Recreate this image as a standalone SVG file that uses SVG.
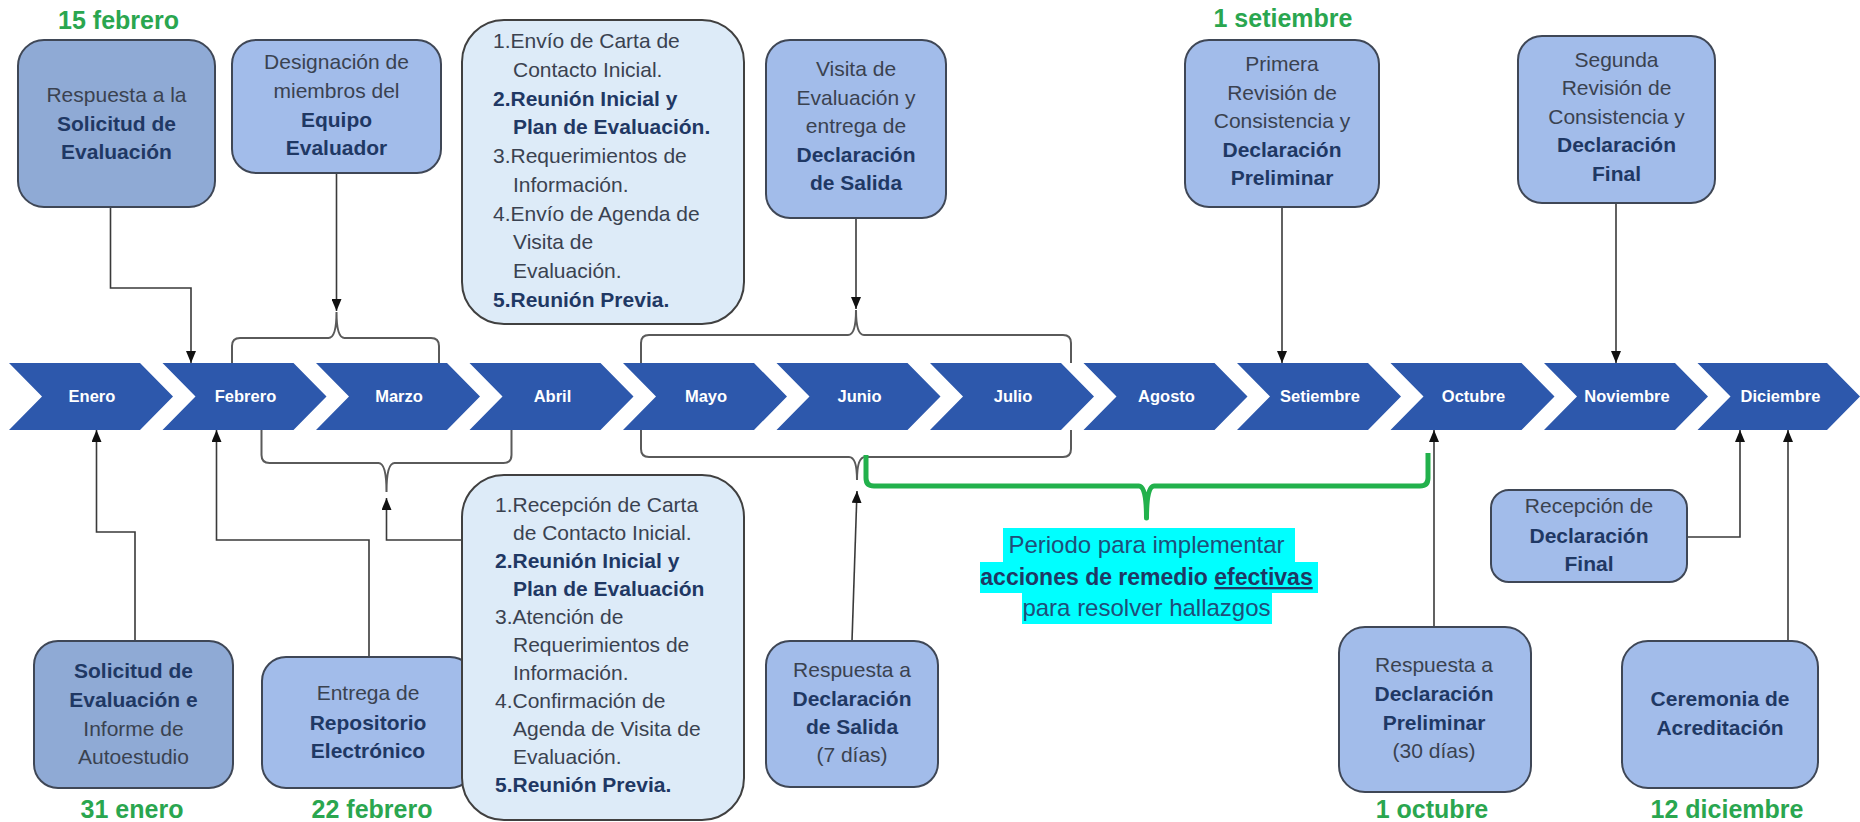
<svg xmlns="http://www.w3.org/2000/svg" width="1860" height="822" viewBox="0 0 1860 822">
<style>
.bg{fill:#ffffff}
.box{stroke:#3f4756;stroke-width:2}
.dark{fill:#8faad5}
.mid{fill:#a2bcea}
.list{fill:#ddebf8;stroke:#404040;stroke-width:2}
text{font-family:"Liberation Sans",Arial,sans-serif}
.t{font-size:21px;text-anchor:middle;fill:#3a4250}
.tl{font-size:21px;fill:#3a4250}
.b{font-weight:bold;fill:#1f3864}
.date{font-size:25px;font-weight:bold;fill:#2aa64f;text-anchor:middle}
.mon{font-size:16.5px;font-weight:bold;fill:#ffffff;text-anchor:middle}
.chev{fill:#2d58ac}
.con{fill:none;stroke:#3a3a3a;stroke-width:1.6}
.brace{fill:none;stroke:#5a5a5a;stroke-width:2}
.gbrace{fill:none;stroke:#22b14c;stroke-width:5;stroke-linejoin:round}
.hl{fill:#00ffff}
.lab{font-size:24px;text-anchor:middle;fill:#1f4e79}
</style>
<defs>
<marker id="arr" viewBox="0 0 12 10" refX="12" refY="5" markerWidth="12" markerHeight="10" markerUnits="userSpaceOnUse" orient="auto">
<path d="M0,0 L12,5 L0,10 z" fill="#111"/>
</marker>
</defs>
<rect class="bg" x="0" y="0" width="1860" height="822"/>

<g id="timeline">
<g id="m-enero"><polygon class="chev" points="9,363 140,363 173,396.5 140,430 9,430 42,396.5"/><text class="mon" x="92" y="402">Enero</text></g>
<g id="m-febrero"><polygon class="chev" points="162.5,363 293.5,363 326.5,396.5 293.5,430 162.5,430 195.5,396.5"/><text class="mon" x="245.5" y="402">Febrero</text></g>
<g id="m-marzo"><polygon class="chev" points="316,363 447,363 480,396.5 447,430 316,430 349,396.5"/><text class="mon" x="399" y="402">Marzo</text></g>
<g id="m-abril"><polygon class="chev" points="469.5,363 600.5,363 633.5,396.5 600.5,430 469.5,430 502.5,396.5"/><text class="mon" x="552.5" y="402">Abril</text></g>
<g id="m-mayo"><polygon class="chev" points="623,363 754,363 787,396.5 754,430 623,430 656,396.5"/><text class="mon" x="706" y="402">Mayo</text></g>
<g id="m-junio"><polygon class="chev" points="776.5,363 907.5,363 940.5,396.5 907.5,430 776.5,430 809.5,396.5"/><text class="mon" x="859.5" y="402">Junio</text></g>
<g id="m-julio"><polygon class="chev" points="930,363 1061,363 1094,396.5 1061,430 930,430 963,396.5"/><text class="mon" x="1013" y="402">Julio</text></g>
<g id="m-agosto"><polygon class="chev" points="1083.5,363 1214.5,363 1247.5,396.5 1214.5,430 1083.5,430 1116.5,396.5"/><text class="mon" x="1166.5" y="402">Agosto</text></g>
<g id="m-setiembre"><polygon class="chev" points="1237,363 1368,363 1401,396.5 1368,430 1237,430 1270,396.5"/><text class="mon" x="1320" y="402">Setiembre</text></g>
<g id="m-octubre"><polygon class="chev" points="1390.5,363 1521.5,363 1554.5,396.5 1521.5,430 1390.5,430 1423.5,396.5"/><text class="mon" x="1473.5" y="402">Octubre</text></g>
<g id="m-noviembre"><polygon class="chev" points="1544,363 1675,363 1708,396.5 1675,430 1544,430 1577,396.5"/><text class="mon" x="1627" y="402">Noviembre</text></g>
<g id="m-diciembre"><polygon class="chev" points="1697.5,363 1827,363 1860,396.5 1827,430 1697.5,430 1730.5,396.5"/><text class="mon" x="1780.5" y="402">Diciembre</text></g>
</g>

<g id="connectors">
<path class="con" d="M110.5,207 V288 H191 V363" marker-end="url(#arr)"/>
<path class="con" d="M336.5,173 V311" marker-end="url(#arr)"/>
<path class="brace" d="M232,363 V346 Q232,338 240,338 H328.5 Q336.5,338 336.5,312 Q336.5,338 344.5,338 H431 Q439,338 439,346 V363"/>
<path class="con" d="M856,218 V309" marker-end="url(#arr)"/>
<path class="brace" d="M641,363 V343 Q641,335 649,335 H848 Q856,335 856,310 Q856,335 864,335 H1063 Q1071,335 1071,343 V363"/>
<path class="con" d="M1282,207 V363" marker-end="url(#arr)"/>
<path class="con" d="M1616,203 V363" marker-end="url(#arr)"/>
<path class="con" d="M135,641 V532 H96.5 V430" marker-end="url(#arr)"/>
<path class="con" d="M369,657 V540 H216.5 V430" marker-end="url(#arr)"/>
<path class="con" d="M463,540 H386.5 V498" marker-end="url(#arr)"/>
<path class="brace" d="M261.5,430 V455 Q261.5,463 269.5,463 H378.5 Q386.5,463 386.5,492 Q386.5,463 394.5,463 H503.5 Q511.5,463 511.5,455 V430"/>
<path class="brace" d="M641,430 V449 Q641,457 649,457 H849 Q857,457 857,480 Q857,457 865,457 H1063 Q1071,457 1071,449 V430"/>
<path class="con" d="M852,641 L857,491" marker-end="url(#arr)"/>
<path class="con" d="M1434,627 V430" marker-end="url(#arr)"/>
<path class="con" d="M1686,537 H1740 V430" marker-end="url(#arr)"/>
<path class="con" d="M1788,642 V430" marker-end="url(#arr)"/>
</g>

<g id="periodo">
<path class="gbrace" d="M866,455 V478 Q866,486 874,486 H1139 Q1146.5,486 1146.5,518 Q1146.5,486 1154,486 H1420 Q1428,486 1428,478 V453"/>
<rect class="hl" x="1003" y="528" width="292" height="34"/>
<rect class="hl" x="980" y="562" width="338" height="31"/>
<rect class="hl" x="1022" y="593" width="250" height="31"/>
<text class="lab" x="1146.5" y="553">Periodo para implementar</text>
<text class="lab" x="1146.5" y="585" style="font-weight:bold;font-size:23px;fill:#1f3864">acciones de remedio <tspan text-decoration="underline">efectivas</tspan></text>
<text class="lab" x="1146.5" y="616">para resolver hallazgos</text>
</g>

<g id="dates">
<text class="date" x="118.5" y="29">15 febrero</text>
<text class="date" x="1283" y="27">1 setiembre</text>
<text class="date" x="132" y="818">31 enero</text>
<text class="date" x="372" y="818">22 febrero</text>
<text class="date" x="1432" y="818">1 octubre</text>
<text class="date" x="1727" y="818">12 diciembre</text>
</g>

<g id="n-respuesta-solicitud">
<rect class="box dark" x="18" y="40" width="197" height="167" rx="26"/>
<text class="t" x="116.5" y="102">Respuesta a la</text>
<text class="t b" x="116.5" y="131">Solicitud de</text>
<text class="t b" x="116.5" y="159">Evaluación</text>
</g>

<g id="n-designacion">
<rect class="box mid" x="232" y="40" width="209" height="133" rx="24"/>
<text class="t" x="336.5" y="69">Designación de</text>
<text class="t" x="336.5" y="98">miembros del</text>
<text class="t b" x="336.5" y="127">Equipo</text>
<text class="t b" x="336.5" y="155">Evaluador</text>
</g>

<g id="n-lista-envio">
<rect class="list" x="462" y="20" width="282" height="304" rx="42"/>
<text class="tl" x="493" y="48">1.Envío de Carta de</text>
<text class="tl" x="513" y="76.8">Contacto Inicial.</text>
<text class="tl b" x="493" y="105.5">2.Reunión Inicial y</text>
<text class="tl b" x="513" y="134.3">Plan de Evaluación.</text>
<text class="tl" x="493" y="163">3.Requerimientos de</text>
<text class="tl" x="513" y="191.8">Información.</text>
<text class="tl" x="493" y="220.5">4.Envío de Agenda de</text>
<text class="tl" x="513" y="249.3">Visita de</text>
<text class="tl" x="513" y="278">Evaluación.</text>
<text class="tl b" x="493" y="306.8">5.Reunión Previa.</text>
</g>

<g id="n-visita">
<rect class="box mid" x="766" y="40" width="180" height="178" rx="24"/>
<text class="t" x="856" y="76">Visita de</text>
<text class="t" x="856" y="105">Evaluación y</text>
<text class="t" x="856" y="133">entrega de</text>
<text class="t b" x="856" y="162">Declaración</text>
<text class="t b" x="856" y="190">de Salida</text>
</g>

<g id="n-primera-revision">
<rect class="box mid" x="1185" y="40" width="194" height="167" rx="24"/>
<text class="t" x="1282" y="71">Primera</text>
<text class="t" x="1282" y="100">Revisión de</text>
<text class="t" x="1282" y="128">Consistencia y</text>
<text class="t b" x="1282" y="157">Declaración</text>
<text class="t b" x="1282" y="185">Preliminar</text>
</g>

<g id="n-segunda-revision">
<rect class="box mid" x="1518" y="36" width="197" height="167" rx="24"/>
<text class="t" x="1616.5" y="67">Segunda</text>
<text class="t" x="1616.5" y="95">Revisión de</text>
<text class="t" x="1616.5" y="124">Consistencia y</text>
<text class="t b" x="1616.5" y="152">Declaración</text>
<text class="t b" x="1616.5" y="181">Final</text>
</g>

<g id="n-solicitud">
<rect class="box dark" x="34" y="641" width="199" height="147" rx="24"/>
<text class="t b" x="133.5" y="678">Solicitud de</text>
<text class="t b" x="133.5" y="707">Evaluación e</text>
<text class="t" x="133.5" y="736">Informe de</text>
<text class="t" x="133.5" y="764">Autoestudio</text>
</g>

<g id="n-entrega">
<rect class="box mid" x="262" y="657" width="212" height="131" rx="24"/>
<text class="t" x="368" y="700">Entrega de</text>
<text class="t b" x="368" y="730">Repositorio</text>
<text class="t b" x="368" y="758">Electrónico</text>
</g>

<g id="n-lista-recepcion">
<rect class="list" x="462" y="475" width="282" height="345" rx="42"/>
<text class="tl" x="495" y="512">1.Recepción de Carta</text>
<text class="tl" x="513" y="540">de Contacto Inicial.</text>
<text class="tl b" x="495" y="568">2.Reunión Inicial y</text>
<text class="tl b" x="513" y="596">Plan de Evaluación</text>
<text class="tl" x="495" y="624">3.Atención de</text>
<text class="tl" x="513" y="652">Requerimientos de</text>
<text class="tl" x="513" y="680">Información.</text>
<text class="tl" x="495" y="708">4.Confirmación de</text>
<text class="tl" x="513" y="736">Agenda de Visita de</text>
<text class="tl" x="513" y="764">Evaluación.</text>
<text class="tl b" x="495" y="792">5.Reunión Previa.</text>
</g>

<g id="n-respuesta-salida">
<rect class="box mid" x="766" y="641" width="172" height="146" rx="24"/>
<text class="t" x="852" y="677">Respuesta a</text>
<text class="t b" x="852" y="706">Declaración</text>
<text class="t b" x="852" y="734">de Salida</text>
<text class="t" x="852" y="762">(7 días)</text>
</g>

<g id="n-respuesta-preliminar">
<rect class="box mid" x="1339" y="627" width="192" height="165" rx="26"/>
<text class="t" x="1434" y="672">Respuesta a</text>
<text class="t b" x="1434" y="701">Declaración</text>
<text class="t b" x="1434" y="730">Preliminar</text>
<text class="t" x="1434" y="758">(30 días)</text>
</g>

<g id="n-recepcion-final">
<rect class="box mid" x="1491" y="490" width="196" height="92" rx="18"/>
<text class="t" x="1589" y="513">Recepción de</text>
<text class="t b" x="1589" y="543">Declaración</text>
<text class="t b" x="1589" y="571">Final</text>
</g>

<g id="n-ceremonia">
<rect class="box mid" x="1622" y="641" width="196" height="147" rx="26"/>
<text class="t b" x="1720" y="706">Ceremonia de</text>
<text class="t b" x="1720" y="735">Acreditación</text>
</g>
</svg>
